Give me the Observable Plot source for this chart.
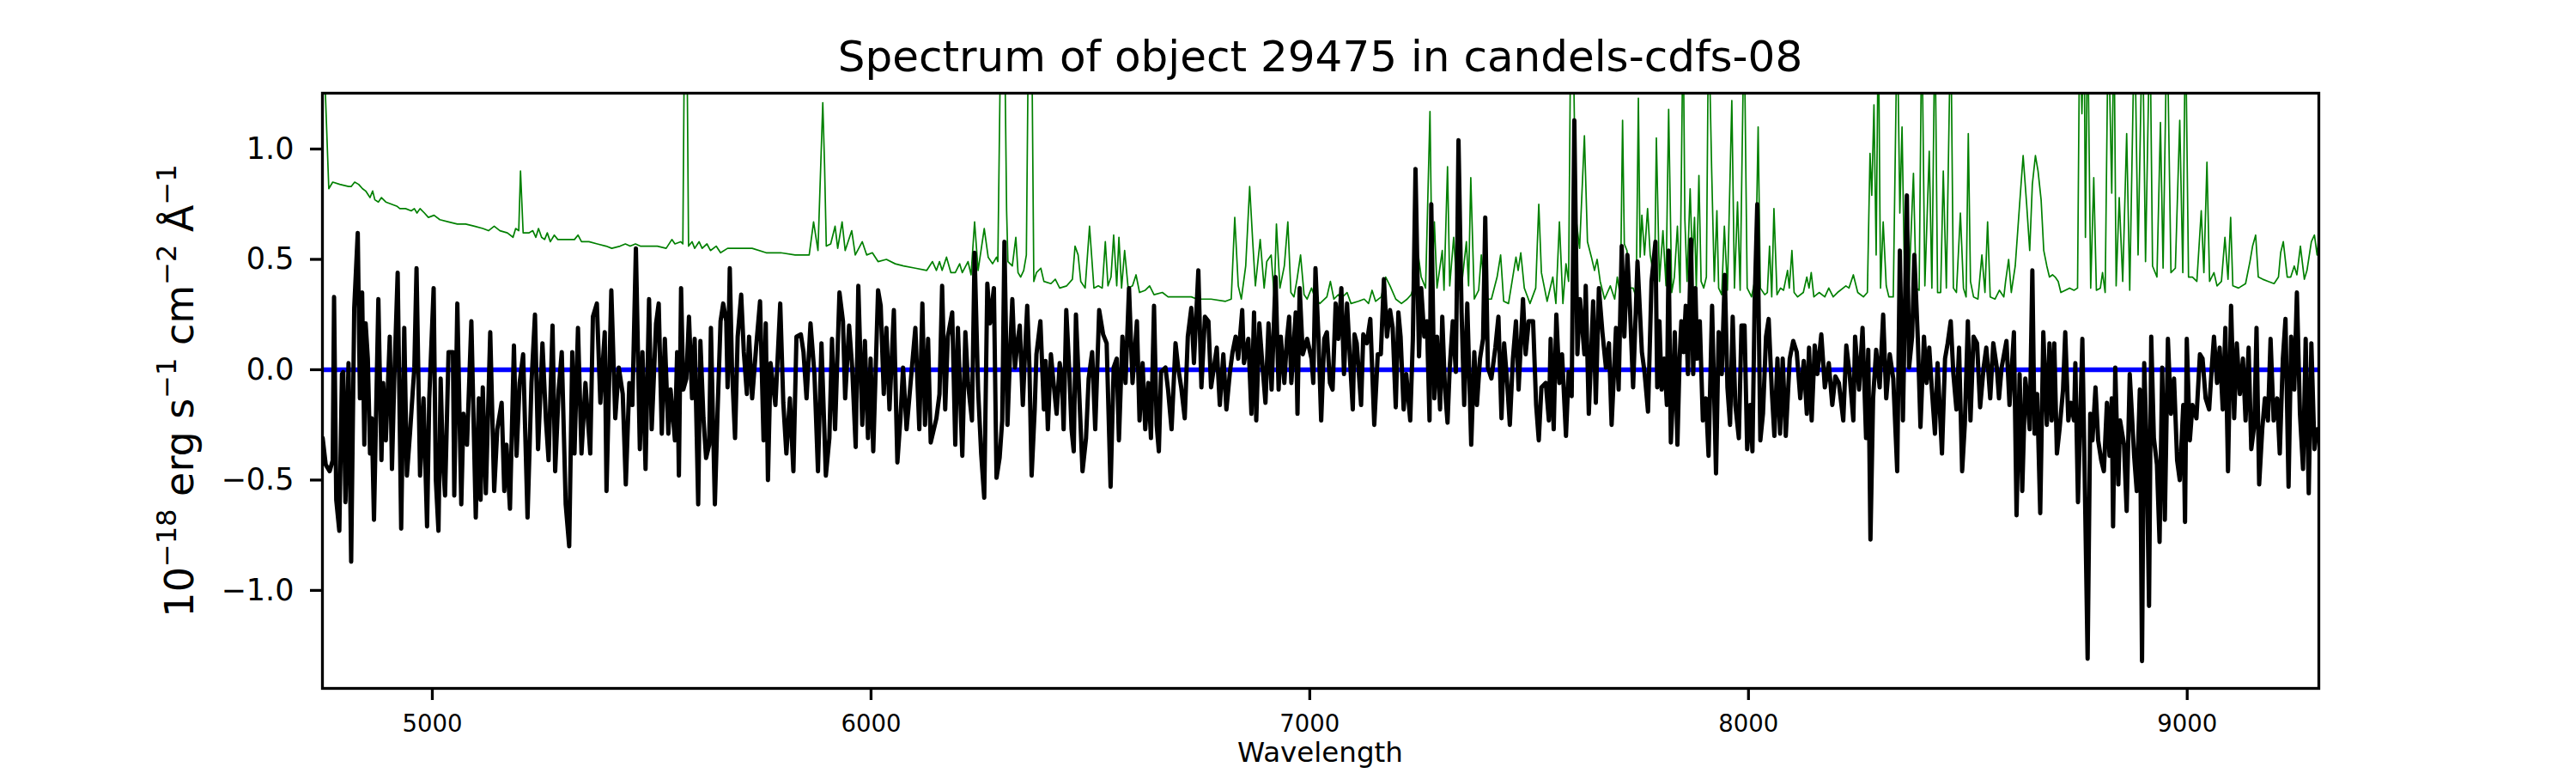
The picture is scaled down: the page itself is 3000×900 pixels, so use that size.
<!DOCTYPE html>
<html><head><meta charset="utf-8">
<script src="https://cdn.jsdelivr.net/npm/d3@7"></script>
<script src="https://cdn.jsdelivr.net/npm/@observablehq/plot@0.6"></script>
<style>
html,body{margin:0;padding:0;background:#fff;}
#chart{width:3000px;height:900px;}
</style></head><body><div id="chart"></div>
<script>
const titleText = "Spectrum of object 29475 in candels-cdfs-08";
const xLabelText = "Wavelength";
const yLabelParts = [["10",0],["−18",1],[" erg s",0],["−1",1],[" cm",0],["−2",1],[" Å",0],["−1",1]];
const xTicks = [5000, 6000, 7000, 8000, 9000];
const yTicks = [-1, -0.5, 0, 0.5, 1];
const xDomain = [4749.5, 9300];
const yDomain = [-1.444, 1.253];
const zeroLevel = [0];

const blackWave = [4750,4757,4766,4773,4776,4781,4788,4794,4797,4802,4809,4815,4822,4830,4835,4840,4845,4848,4853,4858,4862,4867,4877,4884,4888,4894,4903,4908,4913,4921,4929,4936,4942,4949,4959,4964,4972,4980,4988,4993,5003,5008,5014,5019,5024,5029,5037,5047,5050,5057,5066,5071,5079,5089,5099,5106,5110,5115,5122,5132,5141,5148,5158,5164,5169,5177,5186,5192,5199,5207,5217,5226,5234,5241,5251,5259,5265,5274,5280,5288,5295,5304,5312,5319,5324,5332,5340,5349,5360,5366,5375,5383,5393,5397,5408,5417,5425,5434,5441,5449,5456,5464,5473,5479,5486,5494,5500,5510,5516,5523,5530,
5538,5543,5547,5553,5558,5562,5567,5572,5579,5585,5592,5598,5606,5611,5618,5624,5631,5635,5644,5650,5657,5663,5670,5673,5678,5683,5690,5696,5704,5710,5717,5722,5729,5738,5747,5755,5760,5765,5771,5782,5793,5800,5807,5815,5823,5830,5840,5846,5853,5862,5871,5879,5887,5897,5905,5911,5918,5928,5936,5941,5950,5957,5965,5971,5980,5986,5993,5999,6005,6016,6022,6029,6035,6042,6052,6060,6067,6073,6081,6091,6101,6110,6117,6123,6130,6136,6149,6156,6162,6169,6175,6185,6192,6198,6208,6215,6221,6230,6236,6244,6251,6258,6265,6271,6280,6286,
6293,6299,6304,6311,6317,6322,6328,6333,6339,6346,6351,6356,6361,6366,6373,6377,6386,6394,6398,6403,6410,6416,6423,6430,6435,6439,6445,6452,6457,6462,6467,6475,6482,6490,6496,6504,6511,6520,6529,6537,6546,6553,6560,6565,6573,6580,6588,6596,6606,6612,6619,6625,6632,6638,6645,6651,6656,6661,6671,6677,6685,6694,6700,6707,6715,6722,6730,6736,6746,6753,6761,6769,6775,6788,6795,6803,6810,6818,6824,6831,6837,6846,6850,6860,6867,6873,6878,6885,6891,6899,6906,6913,6922,6929,6934,6942,6948,6953,6958,6968,6972,6977,6984,6994,7004,7008,7013,7020,7026,7033,7039,
7046,7052,7059,7065,7072,7078,7085,7091,7098,7102,7107,7112,7117,7122,7130,7138,7147,7155,7162,7169,7176,7183,7189,7196,7202,7207,7214,7220,7229,7235,7241,7249,7254,7261,7267,7273,7277,7284,7290,7297,7302,7308,7314,7319,7326,7333,7339,7346,7352,7359,7368,7375,7381,7388,7395,7400,7406,7414,7423,7430,7437,7443,7450,7456,7463,7470,7476,7486,7492,7499,7509,7516,7522,7528,7538,7545,7549,7556,7562,7569,7575,7584,7590,7597,7603,7610,7616,7626,7629,7636,7646,7652,7659,7667,7675,7682,7688,7698,7704,7711,7717,7724,7730,7737,7747,7757,7763,7771,7779,7788,7792,
7797,7802,7808,7814,7818,7823,7828,7832,7838,7843,7847,7852,7857,7862,7869,7874,7879,7883,7889,7896,7903,7909,7917,7926,7932,7939,7946,7952,7958,7964,7970,7978,7984,7991,7997,8004,8009,8014,8020,8027,8033,8040,8046,8053,8059,8066,8072,8078,8085,8094,8102,8110,8118,8126,8133,8138,8144,8151,8157,8166,8174,8183,8191,8198,8206,8216,8223,8230,8239,8243,8252,8260,8268,8273,8278,8284,8291,8299,8307,8314,8322,8330,8339,8345,8352,8361,8366,8373,8378,8386,8392,8400,8406,8412,8418,8425,8431,8441,8448,8454,8461,8467,8474,8480,8487,8493,8500,8506,8513,8521,8528,8536,8542,
8546,8551,8558,8566,8571,8577,8588,8595,8605,8611,8618,8624,8631,8637,8641,8647,8652,8658,8665,8672,8680,8686,8691,8697,8703,8709,8717,8722,8729,8735,8742,8745,8751,8761,8766,8773,8779,8784,8791,8797,8804,8810,8817,8823,8828,8831,8836,8843,8847,8856,8862,8869,8879,8885,8892,8897,8902,8907,8913,8918,8924,8931,8937,8943,8949,8956,8963,8970,8977,8983,8991,8995,8999,9006,9012,9021,9029,9035,9042,9050,9056,9061,9068,9074,9081,9087,9093,9100,9107,9113,9120,9127,9133,9140,9146,9153,9158,9164,9171,9177,9184,9190,9197,9205,9211,9218,9224,9231,9237,9244,9250,9257,9264,9270,9277,9283,9290,9296,9301];

const blackFlux = [-0.31,-0.43,-0.46,-0.41,0.33,-0.59,-0.73,-0.02,-0.01,-0.60,0.03,-0.87,0.28,0.62,-0.13,0.35,-0.34,0.21,0.05,-0.38,-0.22,-0.68,0.32,-0.41,-0.06,-0.32,0.15,-0.45,-0.06,0.44,-0.72,0.19,-0.48,-0.29,0.01,0.46,-0.48,-0.13,-0.71,-0.13,0.37,-0.50,-0.73,-0.04,-0.41,-0.57,0.08,0.08,-0.57,0.30,-0.61,-0.20,-0.34,0.22,-0.67,-0.13,-0.59,-0.08,-0.56,0.17,-0.55,-0.27,-0.15,-0.55,-0.34,-0.63,0.11,-0.39,-0.06,0.07,-0.67,-0.06,0.25,-0.36,0.12,-0.23,-0.41,0.20,-0.46,-0.09,0.08,-0.61,-0.80,0.08,-0.38,0.19,-0.38,-0.06,-0.38,0.24,0.30,-0.15,0.17,-0.55,0.36,-0.22,0.01,-0.11,-0.52,-0.06,-0.16,0.55,-0.36,0.08,-0.45,0.32,-0.27,0.21,0.30,-0.29,0.14,
-0.29,-0.09,-0.18,-0.32,0.08,-0.48,0.37,-0.09,-0.04,0.24,-0.13,0.14,-0.61,0.13,-0.22,-0.40,-0.34,0.19,-0.61,-0.20,0.22,0.30,0.22,-0.08,0.46,0.01,-0.31,0.15,0.34,0.08,-0.11,0.15,-0.13,0.10,0.31,-0.32,0.21,-0.50,0.03,-0.16,0.30,-0.15,-0.38,-0.13,-0.46,0.15,0.16,0.08,-0.13,0.21,-0.02,-0.46,0.12,-0.48,-0.31,0.14,-0.27,0.35,0.22,-0.13,0.20,0.01,-0.35,0.38,-0.25,0.13,-0.31,0.05,-0.37,0.36,0.29,-0.11,0.19,-0.18,0.27,-0.42,-0.22,0.01,-0.27,-0.04,0.19,-0.27,0.30,-0.25,0.14,-0.33,-0.22,-0.11,0.38,-0.18,0.15,0.26,-0.34,0.19,-0.39,0.17,-0.06,-0.23,0.53,-0.09,-0.38,-0.58,0.39,0.21,0.37,-0.49,
-0.40,-0.23,0.58,-0.25,0.08,0.32,0.01,0.11,0.20,-0.16,0.08,0.29,0.01,-0.48,-0.18,0.07,0.22,-0.18,0.04,-0.27,0.07,-0.06,-0.20,0.03,-0.04,-0.27,0.27,-0.01,-0.27,-0.37,0.25,-0.13,-0.46,-0.31,-0.04,0.08,-0.27,0.27,0.16,0.12,-0.53,0.01,0.05,-0.32,0.15,-0.06,0.37,-0.06,0.22,-0.23,0.03,-0.27,-0.06,-0.31,0.29,-0.25,-0.37,-0.01,0.01,-0.09,-0.27,0.12,0.01,-0.08,-0.22,0.15,0.28,0.03,0.45,-0.08,0.24,0.22,-0.08,0.10,-0.16,0.07,-0.18,-0.01,0.08,0.15,0.05,0.27,0.03,0.14,-0.20,0.26,-0.23,0.21,0.05,-0.15,0.21,-0.09,0.42,-0.09,0.15,-0.06,0.14,0.24,-0.06,0.26,-0.20,0.37,0.07,0.14,0.05,-0.06,0.46,0.14,-0.23,0.14,0.17,
-0.06,-0.09,0.30,0.14,0.37,-0.02,0.30,0.07,-0.18,0.16,0.12,-0.02,-0.16,0.16,0.12,0.23,-0.25,0.07,0.07,0.41,0.15,0.27,0.19,-0.17,0.26,0.15,-0.18,-0.02,-0.23,0.14,0.91,0.06,0.37,0.15,0.22,-0.23,0.75,-0.13,0.15,-0.18,0.24,-0.08,-0.24,0.01,0.22,-0.01,1.04,0.26,-0.16,0.30,-0.34,0.08,-0.16,0.05,0.14,0.69,0.01,-0.04,0.10,0.24,-0.22,0.12,-0.06,-0.25,0.05,0.22,-0.09,0.32,0.07,0.22,0.22,-0.16,-0.32,-0.08,-0.06,-0.23,0.14,-0.27,0.25,-0.06,0.07,-0.30,-0.01,-0.12,1.13,0.07,0.32,0.07,0.38,-0.20,0.31,-0.15,0.37,0.17,0.01,0.12,-0.25,0.19,-0.09,0.56,0.15,0.52,0.27,-0.08,0.49,0.08,-0.01,-0.19,0.40,0.58,-0.08,
0.22,-0.09,0.05,-0.16,0.54,-0.33,-0.11,0.17,-0.34,0.05,0.22,0.08,0.29,-0.02,0.59,-0.02,0.37,0.05,0.22,-0.23,-0.13,-0.39,0.29,-0.47,0.17,-0.02,0.43,-0.08,-0.25,0.24,-0.16,-0.31,0.20,0.20,-0.36,-0.16,-0.37,0.30,0.75,-0.32,-0.20,0.15,0.23,-0.09,-0.30,0.05,-0.29,0.05,-0.30,0.05,0.13,0.08,-0.13,0.04,-0.20,0.10,-0.23,0.11,-0.02,0.16,-0.08,0.03,-0.16,-0.03,-0.06,-0.23,0.11,-0.01,-0.23,0.15,-0.09,0.19,-0.31,0.09,-0.77,-0.13,0.09,-0.08,0.25,-0.13,0.07,-0.04,-0.46,0.54,-0.23,0.79,0.01,0.15,0.52,0.14,-0.26,0.15,-0.06,0.10,-0.09,-0.29,0.03,-0.38,0.05,0.12,0.22,-0.02,-0.18,0.10,-0.46,-0.25,0.22,-0.23,0.15,0.12,-0.17,0.01,0.10,
0.01,-0.13,0.12,0.01,-0.13,0.01,0.13,-0.16,0.17,-0.66,-0.02,-0.55,-0.04,-0.16,-0.27,0.45,-0.29,-0.11,-0.65,0.17,-0.25,0.12,-0.23,0.12,-0.38,-0.27,-0.09,0.17,-0.23,-0.15,-0.23,0.03,-0.60,0.14,-0.44,-1.31,-0.20,-0.32,-0.08,-0.32,-0.41,-0.46,-0.15,-0.39,-0.13,-0.71,0.01,-0.52,-0.23,-0.34,-0.64,-0.02,-0.39,-0.55,-0.09,-1.32,0.03,-0.31,-1.07,0.15,-0.31,-0.43,-0.78,0.01,-0.68,0.14,-0.20,-0.04,-0.41,-0.50,-0.16,-0.69,0.14,-0.32,-0.16,-0.22,0.07,0.05,-0.13,-0.18,0.01,0.15,-0.06,0.10,-0.18,0.19,-0.46,0.29,-0.22,0.12,-0.11,0.05,-0.23,0.10,-0.36,-0.25,0.19,-0.52,-0.27,-0.13,-0.23,0.14,-0.23,-0.13,-0.38,0.05,0.23,-0.53,0.15,-0.09,0.35,-0.20,-0.45,0.14,-0.56,0.12,-0.36,-0.27,-0.27];

const greenWave = [4750,4764,4773,4789,4809,4815,4823,4832,4841,4848,4858,4864,4869,4877,4884,4894,4907,4920,4926,4939,4952,4959,4965,4972,4982,4991,5004,5017,5037,5057,5076,5096,5115,5128,5141,5154,5171,5184,5190,5197,5201,5207,5220,5229,5236,5242,5249,5256,5262,5269,5278,5286,5298,5317,5324,5332,5340,5357,5376,5396,5409,5428,5440,5451,5463,5474,5494,5513,5533,
5546,5553,5566,5571,5575,5580,5584,5592,5598,5608,5615,5626,5634,5647,5657,5673,5696,5729,5761,5794,5827,5859,5869,5879,5890,5894,5898,5908,5918,5924,5934,5941,5956,5964,5980,5990,6003,6016,6035,6055,6074,6101,6127,6140,6149,6156,6162,6172,6182,6192,6202,6208,6221,6228,6236,6244,6258,6267,6277,6286,
6289,6296,6304,6309,6312,6322,6330,6335,6341,6348,6354,6359,6366,6371,6377,6387,6394,6410,6420,6430,6446,6459,6465,6472,6478,6488,6498,6508,6518,6527,6534,6540,6547,6553,6560,6565,6571,6578,6586,6596,6604,6612,6625,6635,6645,6664,6677,6703,6730,6743,6775,6808,6821,6829,6837,6844,6854,6863,6870,6876,6887,6896,6902,6912,6919,6924,6932,6942,6950,6957,6964,6971,6979,6987,6994,7004,7013,7023,7039,
7047,7055,7065,7075,7085,7094,7111,7124,7134,7142,7150,7163,7173,7183,7196,7209,7222,7231,7241,7248,7254,7264,7274,7279,7284,7290,7295,7302,7306,7314,7319,7328,7336,7346,7357,7362,7367,7375,7385,7391,7401,7414,7427,7435,7442,7453,7470,7475,7481,7489,7502,7515,7522,7528,7541,7554,7561,7569,7577,7584,7590,7595,7600,7606,7615,7626,7633,7642,7649,7655,7662,7672,7685,7695,7701,7708,7713,7717,7723,7729,7737,7744,7749,7753,7757,7763,7770,7776,7786,7790,7797,
7805,7812,7818,7825,7831,7838,7844,7851,7855,7860,7867,7872,7877,7881,7887,7892,7898,7904,7909,7916,7922,7928,7932,7939,7945,7952,7962,7968,7975,7981,7990,7997,8007,8016,8022,8027,8037,8043,8048,8053,8058,8065,8073,8080,8089,8093,8099,8104,8112,8125,8133,8138,8143,8149,8161,8174,8183,8193,8203,8222,8229,8239,8249,8262,8271,8277,8281,8286,8291,8296,8301,8307,8314,8320,8330,8339,8345,8350,8356,8366,8376,8382,8389,8395,8402,8412,8418,8425,8431,8438,8444,8451,8461,8467,8474,8483,8490,8496,8501,8506,8513,8523,8532,8539,8545,
8551,8562,8572,8582,8586,8593,8599,8608,8618,8626,8634,8641,8647,8654,8660,8667,8673,8680,8686,8693,8699,8706,8712,8722,8732,8742,8750,8755,8760,8765,8768,8773,8780,8787,8793,8802,8807,8813,8820,8828,8833,8838,8845,8853,8862,8869,8880,8888,8898,8905,8915,8921,8931,8939,8945,8954,8963,8973,8983,8990,8996,9003,9012,9022,9032,9038,9045,9051,9061,9068,9078,9086,9093,9099,9104,9117,9133,9143,9149,9156,9162,9172,9185,9198,9208,9213,9219,9228,9236,9244,9250,9258,9267,9273,9283,9290,9296,9301];

const greenFlux = [1.60,0.82,0.85,0.84,0.83,0.83,0.85,0.84,0.82,0.81,0.78,0.81,0.77,0.76,0.78,0.76,0.75,0.74,0.73,0.73,0.72,0.73,0.71,0.73,0.71,0.69,0.70,0.68,0.67,0.66,0.66,0.65,0.64,0.63,0.65,0.63,0.62,0.60,0.64,0.63,0.90,0.62,0.62,0.63,0.60,0.64,0.60,0.59,0.62,0.58,0.61,0.59,0.59,0.59,0.59,0.61,0.58,0.58,0.57,0.56,0.55,0.56,0.57,0.56,0.57,0.56,0.56,0.56,0.55,
0.59,0.57,0.58,0.57,1.60,1.60,0.56,0.58,0.55,0.58,0.55,0.57,0.54,0.56,0.53,0.55,0.55,0.55,0.53,0.53,0.52,0.52,0.67,0.54,1.21,0.93,0.56,0.57,0.65,0.55,0.67,0.54,0.63,0.52,0.58,0.52,0.53,0.49,0.50,0.48,0.47,0.46,0.45,0.49,0.45,0.49,0.45,0.51,0.44,0.44,0.48,0.44,0.49,0.43,0.67,0.45,0.64,0.51,0.48,0.51,
0.49,1.60,1.60,0.72,0.49,0.47,0.60,0.44,0.42,0.45,0.52,1.60,1.60,0.40,0.44,0.46,0.40,0.39,0.41,0.37,0.38,0.41,0.56,0.52,0.40,0.37,0.65,0.37,0.38,0.37,0.58,0.38,0.42,0.61,0.38,0.60,0.37,0.54,0.37,0.38,0.43,0.35,0.36,0.38,0.34,0.35,0.33,0.33,0.33,0.32,0.32,0.31,0.32,0.69,0.38,0.32,0.47,0.83,0.58,0.38,0.59,0.37,0.49,0.52,0.33,0.66,0.37,0.47,0.67,0.35,0.33,0.41,0.52,0.34,0.32,0.37,0.32,0.30,0.33,
0.40,0.32,0.34,0.33,0.35,0.30,0.31,0.32,0.30,0.36,0.31,0.33,0.42,0.38,0.32,0.30,0.32,0.34,0.40,0.51,0.42,0.37,1.17,0.40,0.67,0.37,0.44,0.54,0.36,0.92,0.38,0.60,0.35,0.38,0.58,0.38,0.87,0.32,0.36,0.52,0.32,0.32,0.42,0.52,0.31,0.30,0.51,0.45,0.53,0.37,0.30,0.37,0.75,0.44,0.31,0.42,0.30,0.67,0.30,0.48,0.40,1.60,1.60,0.70,0.55,1.06,0.58,0.51,0.45,0.50,0.40,0.32,0.38,0.32,0.42,0.33,1.13,0.57,0.54,0.37,0.37,0.33,1.23,0.51,0.70,0.52,0.73,0.52,0.40,1.05,0.40,
0.63,0.38,1.18,0.35,0.42,0.65,0.35,1.60,0.68,0.40,0.82,0.49,0.69,0.37,0.88,0.40,0.37,0.42,1.60,0.91,0.40,0.72,0.37,0.34,0.65,0.36,1.22,0.37,0.76,0.36,1.60,0.37,0.33,0.42,1.10,0.37,0.34,0.35,0.56,0.33,0.73,0.34,0.37,0.36,0.45,0.37,0.54,0.35,0.33,0.35,0.42,0.37,0.44,0.33,0.35,0.33,0.37,0.33,0.35,0.38,0.37,0.43,0.35,0.33,0.35,0.98,0.79,1.20,0.52,1.60,0.37,0.67,0.38,0.33,0.33,1.60,0.71,1.10,0.37,0.39,0.89,0.37,0.36,1.60,0.38,0.99,0.37,1.60,0.35,0.35,0.90,0.37,1.60,0.37,0.35,0.71,0.37,0.33,1.07,0.40,0.33,0.32,0.52,0.35,0.67,
0.33,0.32,0.36,0.33,0.40,0.50,0.35,0.47,0.75,0.97,0.75,0.54,0.84,0.97,0.90,0.77,0.54,0.47,0.42,0.43,0.42,0.40,0.35,0.36,0.37,0.36,0.37,1.60,1.16,1.60,0.60,1.60,0.37,0.87,0.36,0.37,0.44,0.35,1.60,0.80,1.60,0.38,0.78,0.40,1.07,0.36,1.60,0.52,1.60,0.49,1.60,0.47,0.42,1.12,0.46,1.60,0.44,0.46,1.13,0.44,1.60,0.42,0.42,0.40,0.72,0.44,0.94,0.40,0.44,0.38,0.40,0.60,0.41,0.69,0.38,0.37,0.39,0.49,0.56,0.61,0.42,0.41,0.40,0.39,0.42,0.53,0.58,0.42,0.42,0.47,0.43,0.56,0.41,0.45,0.58,0.61,0.52,0.62];

const black = blackWave.map((w, i) => ({wavelength: w, flux: blackFlux[i]}));
const green = greenWave.map((w, i) => ({wavelength: w, flux: greenFlux[i]}));

const chart = Plot.plot({
  width: 3000,
  height: 900,
  marginLeft: 375,
  marginRight: 300,
  marginTop: 108,
  marginBottom: 99,
  style: {fontFamily: "DejaVu Sans", background: "#fff", color: "#000", overflow: "visible"},
  x: {domain: xDomain},
  y: {domain: yDomain},
  marks: [
    Plot.line(green, {x: "wavelength", y: "flux", stroke: "#008000", strokeWidth: 1.7, clip: true}),
    Plot.ruleY(zeroLevel, {stroke: "#0000ff", strokeWidth: 5.5}),
    Plot.line(black, {x: "wavelength", y: "flux", stroke: "#000", strokeWidth: 5, clip: true}),
    Plot.frame({stroke: "#000", strokeWidth: 3.3}),
    Plot.axisX({ticks: xTicks, tickSize: 14, tickPadding: 17, fontSize: 27.5, strokeWidth: 3.3, label: null, tickFormat: d => String(d)}),
    Plot.axisY({ticks: yTicks, tickSize: 14, tickPadding: 19, fontSize: 35, strokeWidth: 3.3, label: null, tickFormat: d => d.toFixed(1).replace("-", "−")})
  ]
});

const svg = d3.select(chart);
svg.append("text")
  .attr("x", 1537.5).attr("y", 83)
  .attr("text-anchor", "middle").attr("font-size", 50).attr("fill", "#000")
  .text(titleText);
svg.append("text")
  .attr("x", 1537.5).attr("y", 887)
  .attr("text-anchor", "middle").attr("font-size", 32.5).attr("fill", "#000")
  .text(xLabelText);
const yl = svg.append("text")
  .attr("transform", "translate(225,455) rotate(-90)")
  .attr("text-anchor", "middle").attr("font-size", 46).attr("fill", "#000")
  .style("white-space", "pre");
let raised = false;
for (const [t, sup] of yLabelParts) {
  const ts = yl.append("tspan").text(t);
  if (sup && !raised) { ts.attr("dy", -20).attr("font-size", 32); raised = true; }
  else if (sup) { ts.attr("font-size", 32); }
  else if (!sup && raised) { ts.attr("dy", 20); raised = false; }
}
document.getElementById("chart").appendChild(chart);
</script>
</body></html>
